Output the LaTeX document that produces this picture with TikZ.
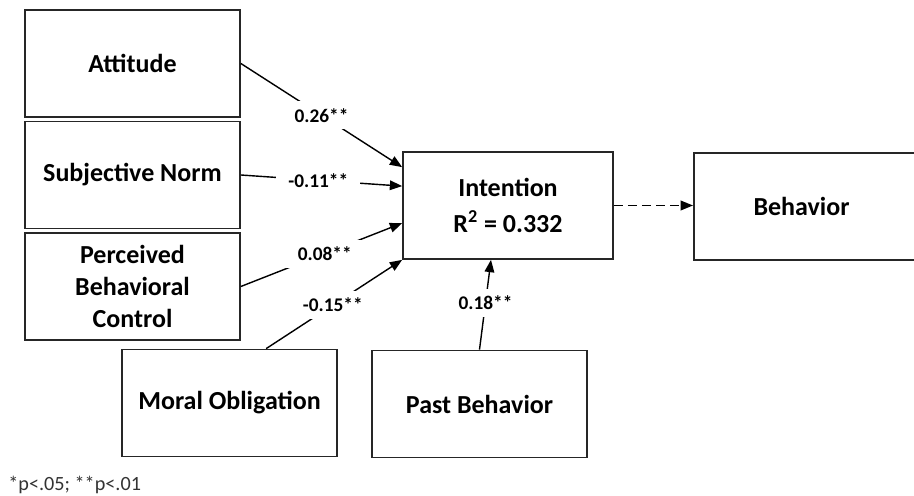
\documentclass[tikz,border=0pt]{standalone}
\usepackage{fontspec}
\setmainfont{Carlito}
\usepackage{tikz}
\usetikzlibrary{positioning, calc, arrows.meta}

\tikzset{
  box/.style={rectangle, draw=black!85, line width=1pt, minimum width=4.3cm, minimum height=2.14cm,
              inner sep=2pt, align=center, font=\fontsize{14.8}{18}\selectfont\bfseries},
  coef/.style={fill=white, inner xsep=7pt, inner ysep=4pt, font=\fontsize{11}{13}\selectfont\bfseries},
  path/.style={line width=0.8pt, -{Triangle[length=7pt,width=5.5pt]}},
}

\begin{document}
\begin{tikzpicture}[x=0.02cm, y=-0.02cm]
                \useasboundingbox (0,0) rectangle (914,496);
                \clip (0,0) rectangle (914,496);

                % predictors
                \node[box] (att) at (132.5, 63.5) {Attitude};
                \node[box] (sn) at (132.5, 175) {Subjective Norm};
                \node[box] (pbc) at (132.5, 286.5) {Perceived\\Behavioral\\Control};
                \node[box] (mo) at (229.5, 403) {Moral Obligation};
                \node[box] (pb) at (479.5, 404) {Past Behavior};

                % outcomes
                \node[box, minimum width=4.2cm, font=\fontsize{14.8}{20}\selectfont\bfseries] (int) at (508, 205.5) {Intention\\R\textsuperscript{2} = 0.332};
                \node[box, anchor=west, minimum width=4.8cm] (beh) at (693, 206.5) {Behavior\hspace{14pt}};

                \draw[path] (att.east) -- node[coef, pos=0.5] {0.26**} ($(int.north west)+(0,16)$);
                \draw[path] (sn.east) -- node[coef, pos=0.48] {-0.11**} ($(int.north west)+(0,35)$);
                \draw[path] (pbc.east) -- node[coef, pos=0.52] {0.08**} ($(int.north west)+(0,72)$);
                \draw[path] ($(mo.north west)+(145,0)$) -- node[coef, pos=0.49] {-0.15**} (int.south west);
                \draw[path] (pb.north) -- node[coef, pos=0.52] {0.18**} ($(int.south)+(-17,0)$);

                \draw[path, dash pattern=on 5pt off 3pt] (int.east) -- (int.east -| beh.west);

                \node[anchor=west, text=black!80, font=\fontsize{11.5}{13}\selectfont, inner sep=0pt] (note) at (8, 485) {*p<.05; **p<.01};
            \end{tikzpicture}
\end{document}
